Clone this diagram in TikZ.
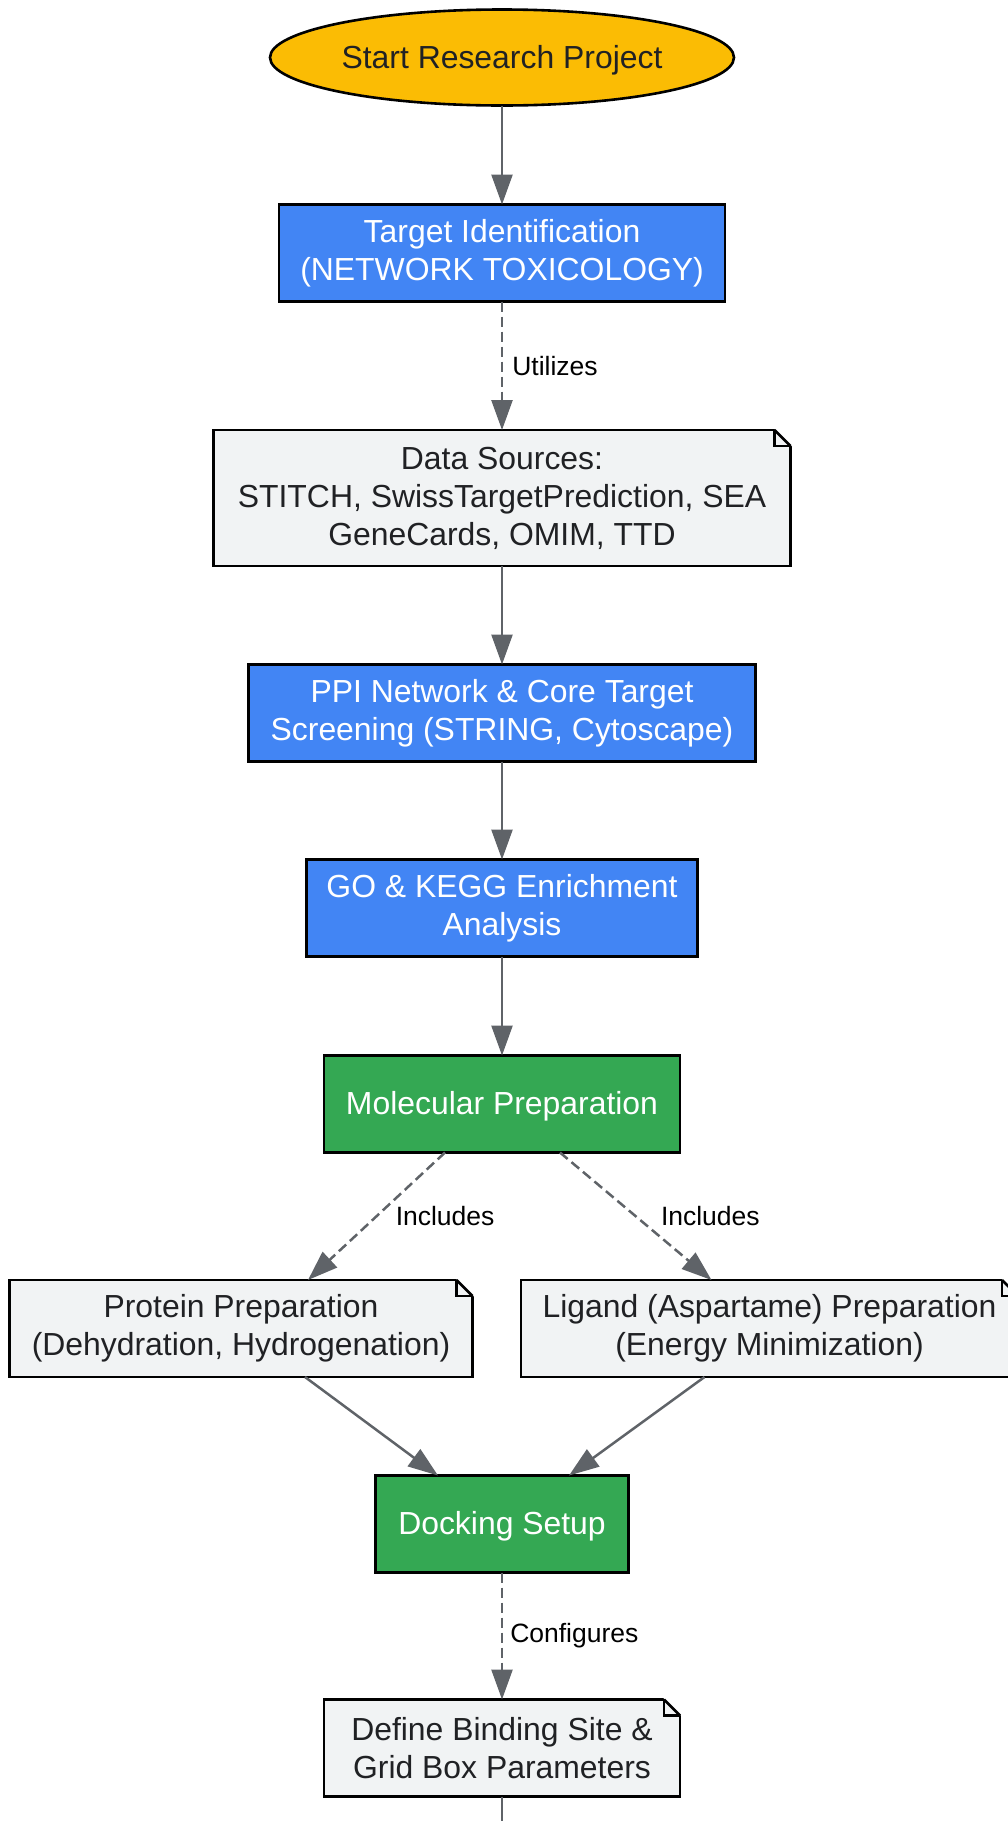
\documentclass[tikz,border=0pt]{standalone}
\usepackage{fontspec}
\setmainfont{Liberation Sans}
\usetikzlibrary{shapes.geometric, arrows.meta, positioning}
\definecolor{startyellow}{HTML}{FBBC04}
\definecolor{stepblue}{HTML}{4285F4}
\definecolor{stepgreen}{HTML}{34A853}
\definecolor{notegray}{HTML}{F1F3F4}
\definecolor{edgegray}{HTML}{5F6368}
\definecolor{textdark}{HTML}{202124}

\begin{document}
\begin{tikzpicture}[x=1pt, y=-1pt,
    box/.style = {draw=black, line width=2.6pt, outer sep=0pt, inner sep=0pt, align=center, minimum height=97pt,
      font=\fontsize{31.9}{38}\selectfont, execute at begin node={\rule{0pt}{28pt}}},
    startnode/.style = {box, ellipse, fill=startyellow, text=textdark},
    bluebox/.style = {box, fill=stepblue, text=white},
    greenbox/.style = {box, fill=stepgreen, text=white},
    notebox/.style = {box, fill=notegray, text=textdark},
    flow/.style = {draw=edgegray, line width=2.5pt, -{Triangle[length=30pt, width=21pt]}},
    uses/.style = {flow, dash pattern=on 10pt off 5pt},
    lbl/.style = {inner sep=0pt, text=black, font=\fontsize{26.5}{32}\selectfont}]
  \useasboundingbox (0,0) rectangle (1008,1821);

  \node[startnode, minimum width=464pt, minimum height=96pt] (start) at (502,57.5) {Start Research Project};
  \node[bluebox, minimum width=446pt] (target) at (502,253) {Target Identification\\(NETWORK TOXICOLOGY)};
  \node[notebox, minimum width=577pt, minimum height=136pt] (data) at (502,498) {Data Sources:\\STITCH, SwissTargetPrediction, SEA\\GeneCards, OMIM, TTD};
  \node[bluebox, minimum width=507pt] (ppi) at (502,713) {PPI Network \& Core Target\\Screening (STRING, Cytoscape)};
  \node[bluebox, minimum width=391pt] (enrich) at (502,908) {GO \& KEGG Enrichment\\Analysis};
  \node[greenbox, minimum width=356pt] (molprep) at (502,1104) {Molecular Preparation};
  \node[notebox, minimum width=463pt] (protein) at (241,1328.5) {Protein Preparation\\(Dehydration, Hydrogenation)};
  \node[notebox, minimum width=497pt] (ligand) at (769.5,1328.5) {Ligand (Aspartame) Preparation\\(Energy Minimization)};
  \node[greenbox, minimum width=253pt] (docking) at (502,1524) {Docking Setup};
  \node[notebox, minimum width=356pt] (grid) at (502,1748) {Define Binding Site \&\\Grid Box Parameters};
  \coordinate (next) at (502,1840);

  % folded corners of the notes
  \foreach \n in {data, protein, ligand, grid} {
    \fill[white] ([xshift=-17pt, yshift=2pt]\n.north east) -- ([xshift=2pt, yshift=2pt]\n.north east) -- ([xshift=2pt, yshift=-17pt]\n.north east) -- cycle;
    \draw[line width=2.6pt] ([xshift=-16pt]\n.north east) -- ([yshift=-16pt]\n.north east);
    \draw[line width=2.6pt] ([xshift=-16pt]\n.north east) |- ([yshift=-16pt]\n.north east);
  }

  \draw[flow] (start) -- (target);
  \draw[uses] (target) -- node[lbl, right=9pt] {Utilizes} (data);
  \draw[flow] (data) -- (ppi);
  \draw[flow] (ppi) -- (enrich);
  \draw[flow] (enrich) -- (molprep);
  \draw[uses] ([xshift=-57pt]molprep.south) -- node[lbl, right=18pt] {Includes} ([xshift=67pt]protein.north);
  \draw[uses] ([xshift=58pt]molprep.south) -- node[lbl, right=24pt] {Includes} ([xshift=-58pt]ligand.north);
  \draw[flow] ([xshift=64pt]protein.south) -- ([xshift=-64pt]docking.north);
  \draw[flow] ([xshift=-65pt]ligand.south) -- ([xshift=67pt]docking.north);
  \draw[uses] (docking) -- node[lbl, right=7pt] {Configures} (grid);
  \draw[edgegray, line width=2.5pt] (grid) -- (next);
\end{tikzpicture}
\end{document}
